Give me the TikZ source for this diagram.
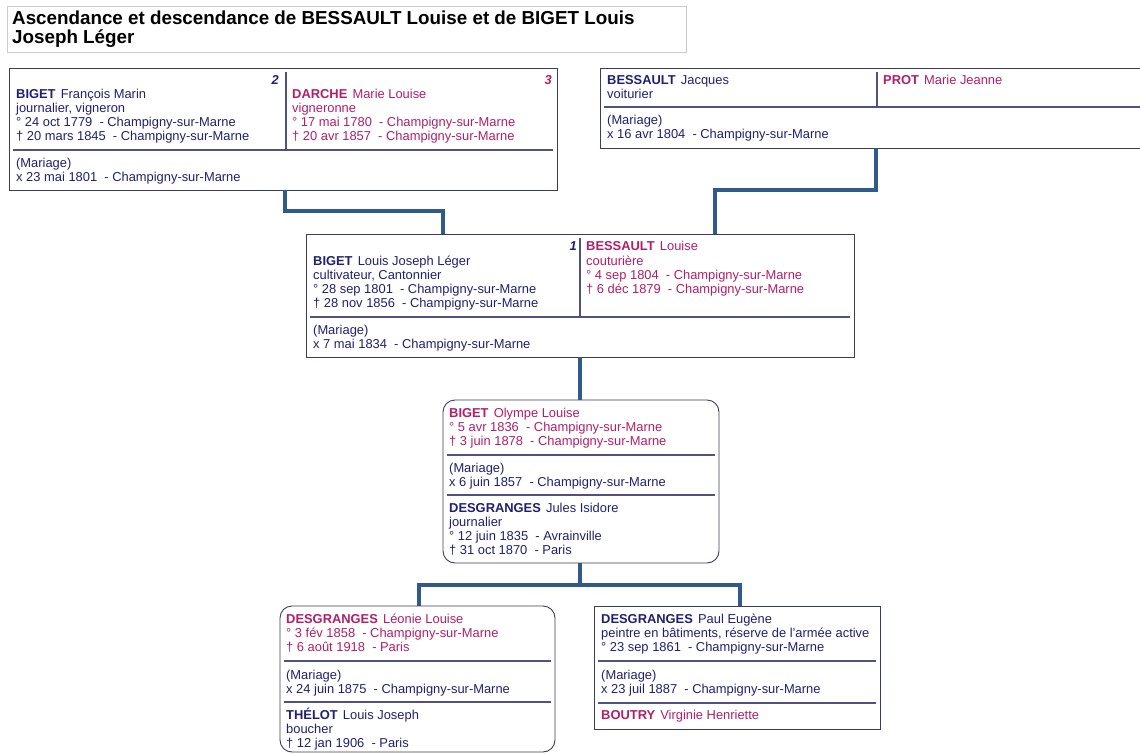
\documentclass[tikz,border=0pt]{standalone}
\usepackage{fontspec}
\setmainfont{Liberation Sans}
\definecolor{navy}{RGB}{32,32,112}
\definecolor{rose}{RGB}{178,30,104}
\definecolor{linkc}{RGB}{48,90,138}
\definecolor{framec}{RGB}{60,60,96}
\definecolor{rulec}{RGB}{80,80,130}
\newcommand\fsz{\fontsize{12.9}{14}\selectfont}
\newcommand\surn[2]{\textbf{#1}\hspace{0.4em}#2}
\begin{document}
\begin{tikzpicture}[x=1pt,y=-1pt,
 t/.style={anchor=base west, inner sep=0, font=\fsz, text=navy},
 tr/.style={t, text=rose},
 num/.style={anchor=base east, inner sep=0, font=\fsz\bfseries\itshape},
 box/.style={draw=framec, line width=0.9pt, anchor=north west, inner sep=0, outer sep=0},
 rbox/.style={box, rounded corners=12pt},
 sepl/.style={draw=rulec, line width=1.1pt},
 linkl/.style={draw=linkc, line width=4pt},
 ttl/.style={anchor=base west, inner sep=0, font=\fontsize{18.8}{19}\selectfont\bfseries}]
\useasboundingbox (0,0) rectangle (1140,754);
\fill[white] (0,0) rectangle (1140,754);

% title
\node[draw=gray!40, line width=0.8pt, anchor=north west, inner sep=0, minimum width=679, minimum height=46] (tbox) at (7,6) {};
\node[ttl] (title1) at (12,25) {Ascendance et descendance de BESSAULT Louise et de BIGET Louis};
\node[ttl] (title2) at (12,44) {Joseph Léger};

% top-left couple
\node[box, minimum width=548, minimum height=122] (pTL) at (9,68) {};
\draw[sepl] (286,72) -- (286,150);
\draw[sepl] (13,150) -- (553,150);
\node[num, text=navy] (n2) at (279,85) {2};
\node[num, text=rose] (n3) at (552,85) {3};
\node[t] (a1) at (16,99) {\surn{BIGET}{François Marin}};
\node[t] (a2) at (16,113) {journalier, vigneron};
\node[t] (a3) at (16,127) {° 24 oct 1779\ \ - Champigny-sur-Marne};
\node[t] (a4) at (16,141) {† 20 mars 1845\ \ - Champigny-sur-Marne};
\node[tr] (b1) at (292,99) {\surn{DARCHE}{Marie Louise}};
\node[tr] (b2) at (292,113) {vigneronne};
\node[tr] (b3) at (292,127) {° 17 mai 1780\ \ - Champigny-sur-Marne};
\node[tr] (b4) at (292,141) {† 20 avr 1857\ \ - Champigny-sur-Marne};
\node[t] (m1a) at (16,168) {(Mariage)};
\node[t] (m1b) at (16,182) {x 23 mai 1801\ \ - Champigny-sur-Marne};

% top-right couple
\node[box, minimum width=541, minimum height=80] (pTR) at (600,68) {};
\draw[sepl] (877,72) -- (877,107);
\draw[sepl] (604,107) -- (1140,107);
\node[t] (c1) at (607,85) {\surn{BESSAULT}{Jacques}};
\node[t] (c2) at (607,99) {voiturier};
\node[tr] (d1) at (883,85) {\surn{PROT}{Marie Jeanne}};
\node[t] (m2a) at (607,125) {(Mariage)};
\node[t] (m2b) at (607,139) {x 16 avr 1804\ \ - Champigny-sur-Marne};

% center couple
\node[box, minimum width=548, minimum height=123] (pC) at (306,234) {};
\draw[sepl] (580,238) -- (580,317);
\draw[sepl] (310,317) -- (850,317);
\node[num, text=navy] (n1) at (577,251) {1};
\node[t] (e1) at (313,265) {\surn{BIGET}{Louis Joseph Léger}};
\node[t] (e2) at (313,279) {cultivateur, Cantonnier};
\node[t] (e3) at (313,293) {° 28 sep 1801\ \ - Champigny-sur-Marne};
\node[t] (e4) at (313,307) {† 28 nov 1856\ \ - Champigny-sur-Marne};
\node[tr] (f1) at (586,251) {\surn{BESSAULT}{Louise}};
\node[tr] (f2) at (586,265) {couturière};
\node[tr] (f3) at (586,279) {° 4 sep 1804\ \ - Champigny-sur-Marne};
\node[tr] (f4) at (586,293) {† 6 déc 1879\ \ - Champigny-sur-Marne};
\node[t] (m3a) at (313,334) {(Mariage)};
\node[t] (m3b) at (313,348) {x 7 mai 1834\ \ - Champigny-sur-Marne};

% middle child
\node[rbox, minimum width=276, minimum height=163] (pM) at (443,400) {};
\draw[sepl] (447,455) -- (715,455);
\draw[sepl] (447,495) -- (715,495);
\node[tr] (g1) at (449,417) {\surn{BIGET}{Olympe Louise}};
\node[tr] (g2) at (449,431) {° 5 avr 1836\ \ - Champigny-sur-Marne};
\node[tr] (g3) at (449,445) {† 3 juin 1878\ \ - Champigny-sur-Marne};
\node[t] (m4a) at (449,472) {(Mariage)};
\node[t] (m4b) at (449,486) {x 6 juin 1857\ \ - Champigny-sur-Marne};
\node[t] (h1) at (449,512) {\surn{DESGRANGES}{Jules Isidore}};
\node[t] (h2) at (449,526) {journalier};
\node[t] (h3) at (449,540) {° 12 juin 1835\ \ - Avrainville};
\node[t] (h4) at (449,554) {† 31 oct 1870\ \ - Paris};

% bottom-left grandchild
\node[rbox, minimum width=275, minimum height=146] (pBL) at (280,606) {};
\draw[sepl] (284,661) -- (551,661);
\draw[sepl] (284,702) -- (551,702);
\node[tr] (i1) at (286,623) {\surn{DESGRANGES}{Léonie Louise}};
\node[tr] (i2) at (286,637) {° 3 fév 1858\ \ - Champigny-sur-Marne};
\node[tr] (i3) at (286,651) {† 6 août 1918\ \ - Paris};
\node[t] (m5a) at (286,679) {(Mariage)};
\node[t] (m5b) at (286,693) {x 24 juin 1875\ \ - Champigny-sur-Marne};
\node[t] (k1) at (286,719) {\surn{THÉLOT}{Louis Joseph}};
\node[t] (k2) at (286,733) {boucher};
\node[t] (k3) at (286,747) {† 12 jan 1906\ \ - Paris};

% bottom-right grandchild
\node[box, minimum width=286, minimum height=123] (pBR) at (594,606) {};
\draw[sepl] (598,661) -- (876,661);
\draw[sepl] (598,703) -- (876,703);
\node[t] (l1) at (601,623) {\surn{DESGRANGES}{Paul Eugène}};
\node[t] (l2) at (601,637) {peintre en bâtiments, réserve de l'armée active};
\node[t] (l3) at (601,651) {° 23 sep 1861\ \ - Champigny-sur-Marne};
\node[t] (m6a) at (601,679) {(Mariage)};
\node[t] (m6b) at (601,693) {x 23 juil 1887\ \ - Champigny-sur-Marne};
\node[tr] (o1) at (601,719) {\surn{BOUTRY}{Virginie Henriette}};

% connectors
\coordinate (j1) at (285,211);
\coordinate (j2) at (443,211);
\coordinate (j3) at (876,190);
\coordinate (j4) at (715,190);
\coordinate (j5) at (580,585);
\coordinate (j6) at (419,585);
\coordinate (j7) at (740,585);
\draw[linkl] (pTL.south -| j1) -- (j1) -- (j2) -- (pC.north -| j2);
\draw[linkl] (pTR.south -| j3) -- (j3) -- (j4) -- (pC.north -| j4);
\draw[linkl] (pC.south -| j5) -- (pM.north -| j5);
\draw[linkl] (pM.south -| j5) -- (j5);
\draw[linkl] (pBL.north -| j6) -- (j6) -- (j7) -- (pBR.north -| j7);
\end{tikzpicture}
\end{document}
